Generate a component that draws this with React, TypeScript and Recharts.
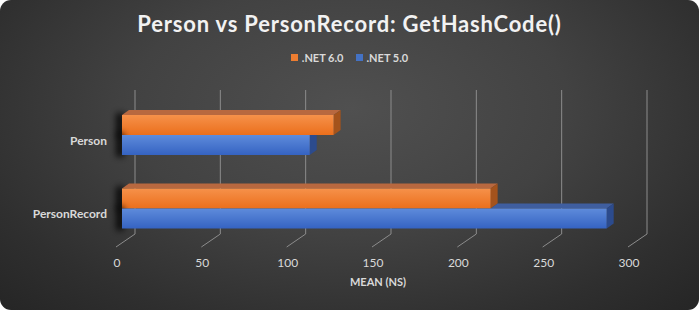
import { Bar, BarChart, CartesianGrid, XAxis, YAxis } from "recharts"

const categories = ["Person", "PersonRecord"]
const net6Values = [124, 216]
const net5Values = [110, 284]
const xTicks = [0, 50, 100, 150, 200, 250, 300]
const seriesNames = [".NET 6.0", ".NET 5.0"]

const data = categories.map((name, i) => ({ name, net6: net6Values[i], net5: net5Values[i] }))

const palette: any = {
  net6: { top: "#f6914a", bottom: "#eb6f1c", lid: "#b8683f", side: "#a4531c", swatch: "#ed7d31" },
  net5: { top: "#5e8bdb", bottom: "#3563c2", lid: "#3f5e9f", side: "#2c4b8d", swatch: "#4472c4" },
}

const DX = 7
const DY = 5

const Bar3D = (props: any) => {
  const { x, y, width, height, dataKey, payload } = props
  if (!width || width <= 0) return null
  const c = palette[dataKey]
  // the lower bar sits under the upper one, so hide what the upper bar covers
  const cover = dataKey === "net5" ? (width * payload.net6) / payload.net5 : 0
  const right = x + width
  const parts: any[] = []
  parts.push(
    <rect key="sh" x={x - 6} y={y - 2} width={8} height={height + 4} fill="#000" opacity={0.8} filter="url(#barShadow)" />
  )
  if (cover < width) {
    const s = x + Math.max(cover, 0)
    parts.push(
      <polygon key="lid" points={`${s},${y} ${s + DX},${y - DY} ${right + DX},${y - DY} ${right},${y}`} fill={c.lid} />
    )
    parts.push(
      <polygon key="side" points={`${right},${y} ${right + DX},${y - DY} ${right + DX},${y + height - DY} ${right},${y + height}`} fill={c.side} />
    )
  } else {
    parts.push(
      <polygon key="side" points={`${right},${y} ${right + DX},${y} ${right + DX},${y + height - DY} ${right},${y + height}`} fill={c.side} />
    )
  }
  parts.push(<rect key="front" x={x} y={y} width={width} height={height} fill={`url(#grad_${dataKey})`} />)
  return <g>{parts}</g>
}

const GridLine = (p: any) => {
  const { x1, y1, y2 } = p
  const bx = x1 + 13
  return (
    <g key={p.key}>
      <polyline
        points={`${bx},${y1 - 8} ${bx},${y2 - 11} ${x1 - 6},${y2 + 2}`}
        fill="none"
        stroke="#8c8c8c"
        strokeWidth={1}
      />
    </g>
  )
}

const XTick = (p: any) => (
  <text x={p.x - 5} y={p.y} dy={14} textAnchor="middle" fill="#d9d9d9" fontSize={12} fontFamily="Lato">
    {p.payload.value}
  </text>
)

const YTick = (p: any) => (
  <text x={p.x - 7} y={p.y} dy={10} textAnchor="end" fill="#d9d9d9" fontSize={12} fontWeight="bold" fontFamily="Lato">
    {p.payload.value}
  </text>
)

export default function App() {
  return (
    <div
      style={{
        position: "absolute",
        left: 0,
        top: 0,
        width: 699,
        height: 310,
        borderRadius: 11,
        overflow: "hidden",
        background: "radial-gradient(ellipse 70% 90% at 50% 35%, #505050 0%, #424242 45%, #2f2f2f 80%, #262626 100%)",
        fontFamily: "Lato",
      }}
    >
      <div
        style={{
          position: "absolute",
          top: 10,
          width: 699,
          textAlign: "center",
          color: "#f2f2f2",
          fontSize: 22,
          fontWeight: "bold",
          letterSpacing: 0.8,
        }}
      >
        Person vs PersonRecord: GetHashCode()
      </div>
      <div
        style={{
          position: "absolute",
          top: 51,
          width: 699,
          display: "flex",
          justifyContent: "center",
          gap: 12,
          color: "#d9d9d9",
          fontSize: 11,
          fontWeight: "bold",
        }}
      >
        {seriesNames.map((n, i) => (
          <div key={n} style={{ display: "flex", alignItems: "center", gap: 4 }}>
            <span style={{ width: 7, height: 7, background: palette[i === 0 ? "net6" : "net5"].swatch }} />
            <span>{n}</span>
          </div>
        ))}
      </div>
      <div style={{ position: "absolute", left: 0, top: 0 }}>
        <BarChart
          width={699}
          height={310}
          data={data}
          layout="vertical"
          margin={{ top: 98, right: 65, bottom: 25, left: 10 }}
          barGap={0}
          barSize={20}
        >
          <defs>
            <linearGradient id="grad_net6" x1="0" y1="0" x2="0" y2="1">
              <stop offset="0%" stopColor={palette.net6.top} />
              <stop offset="100%" stopColor={palette.net6.bottom} />
            </linearGradient>
            <linearGradient id="grad_net5" x1="0" y1="0" x2="0" y2="1">
              <stop offset="0%" stopColor={palette.net5.top} />
              <stop offset="100%" stopColor={palette.net5.bottom} />
            </linearGradient>
            <filter id="barShadow" x="-200%" y="-50%" width="500%" height="200%">
              <feGaussianBlur stdDeviation={3} />
            </filter>
          </defs>
          <CartesianGrid horizontal={false} vertical={(p: any) => <GridLine {...p} />} />
          <XAxis
            type="number"
            domain={[0, 300]}
            ticks={xTicks}
            axisLine={false}
            tickLine={false}
            tick={<XTick />}
            height={40}
            label={{ value: "MEAN (NS)", position: "insideBottom", offset: -1, fill: "#d9d9d9", fontSize: 11, fontWeight: "bold" }}
          />
          <YAxis type="category" dataKey="name" width={112} axisLine={false} tickLine={false} tick={<YTick />} />
          <Bar dataKey="net6" name={seriesNames[0]} fill={palette.net6.swatch} shape={<Bar3D />} isAnimationActive={false} />
          <Bar dataKey="net5" name={seriesNames[1]} fill={palette.net5.swatch} shape={<Bar3D />} isAnimationActive={false} />
        </BarChart>
      </div>
    </div>
  )
}
